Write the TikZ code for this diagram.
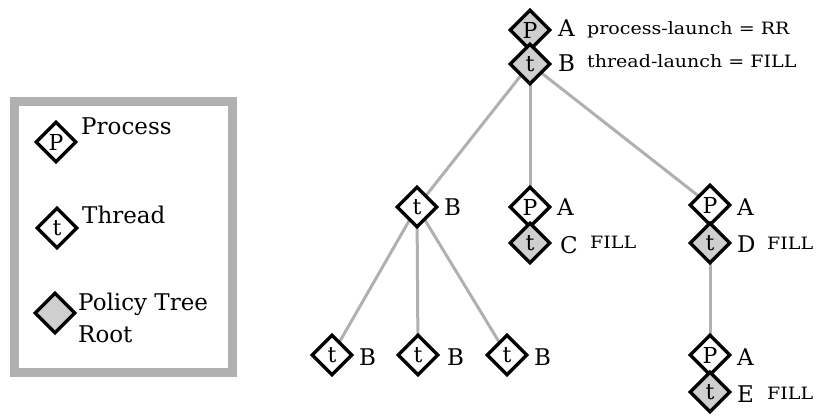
\documentclass[tikz,border=0pt]{standalone}
\usepackage{fontspec}
\setmainfont{DejaVu Serif}
\newfontfamily\bigf{DejaVu Serif}
\newfontfamily\smf[FakeStretch=1.12]{DejaVu Serif}
\usetikzlibrary{shapes.geometric,backgrounds}
\begin{document}
\begin{tikzpicture}[x=1pt,y=-1pt,
  dia/.style={diamond,aspect=1,draw=black,line width=3.4pt,fill=white,inner sep=0pt,minimum size=41pt,font=\bigf\fontsize{22}{24}\selectfont},
  rootdia/.style={dia,fill=gray!38},
  lbl/.style={anchor=base west,inner sep=0pt,font=\bigf\fontsize{23}{26}\selectfont},
  slbl/.style={anchor=base west,inner sep=0pt,font=\smf\fontsize{17}{20}\selectfont},
  edge/.style={draw=gray!62,line width=3pt}]
\useasboundingbox (0,0) rectangle (825,417);
% legend
\draw[gray!62,line width=9pt] (14.5,101.5) rectangle (232.5,372.5);
\node[dia] (lp) at (56,142) {P};
\node[lbl] (lpt) at (81,135) {Process};
\node[dia] (lt) at (57,228) {t};
\node[lbl] (ltt) at (82,223) {Thread};
\node[rootdia] (lr) at (55,313) {};
\node[lbl] (lrt1) at (78,310) {Policy Tree};
\node[lbl] (lrt2) at (78,342) {Root};
% tree nodes
\node[rootdia] (p0) at (530,30) {P};
\node[rootdia] (t0) at (530,64) {t};
\node[lbl] (p0a) at (558,37) {A};
\node[slbl] (p0s) at (587,35) {process-launch = RR};
\node[lbl] (t0b) at (558,72) {B};
\node[slbl] (t0s) at (587,68) {thread-launch = FILL};

\node[dia] (tb) at (417,207) {t};
\node[lbl] (tbl) at (444,215) {B};

\node[dia] (p1) at (530,207) {P};
\node[rootdia] (t1) at (530,243) {t};
\node[lbl] (p1a) at (557,215) {A};
\node[lbl] (t1c) at (560,253) {C};
\node[slbl] (t1s) at (590,248) {FILL};

\node[dia] (p2) at (710,205) {P};
\node[rootdia] (t2) at (710,243) {t};
\node[lbl] (p2a) at (737,215) {A};
\node[lbl] (t2d) at (737,252) {D};
\node[slbl] (t2s) at (767,249) {FILL};

\node[dia] (p3) at (710,355) {P};
\node[rootdia] (t3) at (710,392) {t};
\node[lbl] (p3a) at (737,365) {A};
\node[lbl] (t3e) at (737,402) {E};
\node[slbl] (t3s) at (767,399) {FILL};

\node[dia] (b1) at (332,355) {t};
\node[lbl] (b1l) at (359,365) {B};
\node[dia] (b2) at (418,355) {t};
\node[lbl] (b2l) at (447,365) {B};
\node[dia] (b3) at (507,355) {t};
\node[lbl] (b3l) at (534,365) {B};
% edges
\begin{pgfonlayer}{background}
\draw[edge] (t0.center) -- (tb.center);
\draw[edge] (t0.center) -- (p1.center);
\draw[edge] (t0.center) -- (p2.center);
\draw[edge] (tb.center) -- (b1.center);
\draw[edge] (tb.center) -- (b2.center);
\draw[edge] (tb.center) -- (b3.center);
\draw[edge] (t2.center) -- (p3.center);
\end{pgfonlayer}
\end{tikzpicture}
\end{document}
